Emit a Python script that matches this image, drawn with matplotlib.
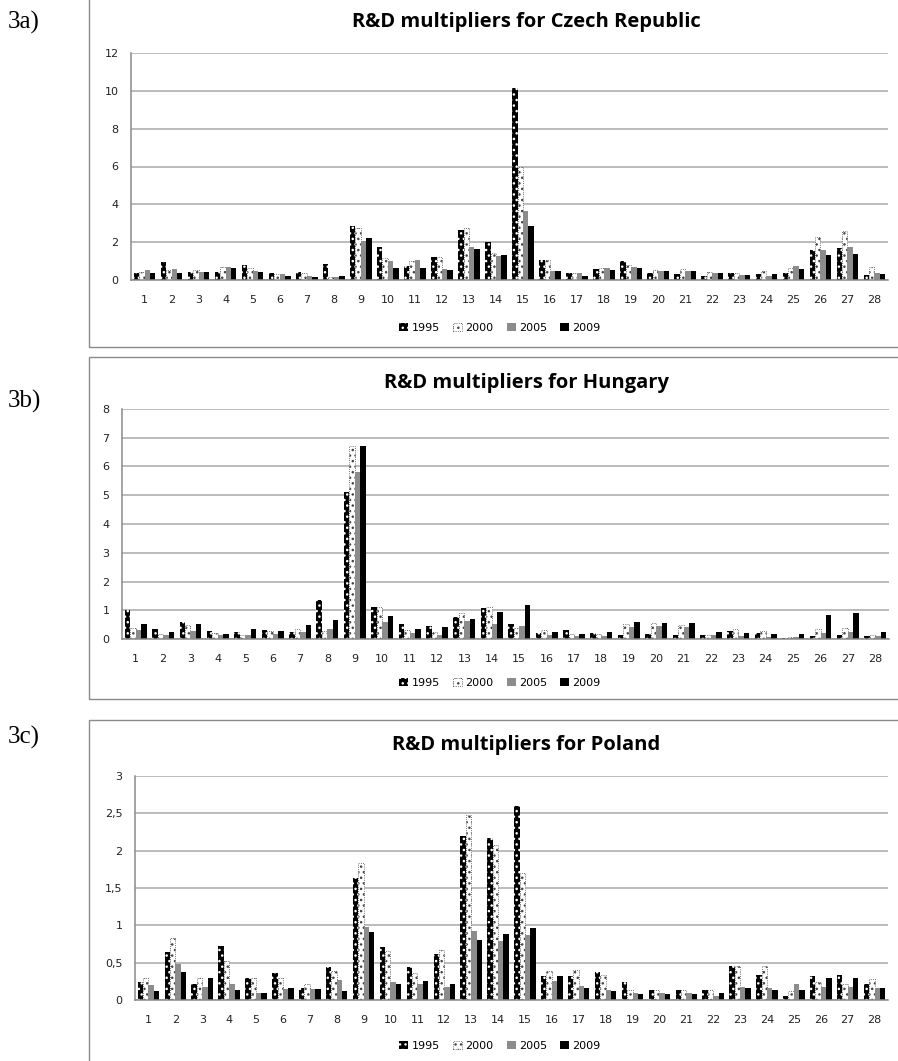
import numpy as np
import matplotlib
matplotlib.use("Agg")
from matplotlib import pyplot as plt
from matplotlib.patches import Rectangle

plt.rcParams['font.family'] = ['DejaVu Sans']
plt.rcParams['hatch.linewidth'] = 1.0

W, H = 898, 1061

sectors = list(range(1, 29))
years = ['1995', '2000', '2005', '2009']

# R&D multipliers, Czech Republic
cz_1995 = [0.35, 0.97, 0.40, 0.40, 0.78, 0.35, 0.44, 0.83, 2.88, 1.75, 0.76, 1.22, 2.65, 2.01,
           10.14, 1.06, 0.39, 0.58, 1.00, 0.35, 0.34, 0.21, 0.39, 0.34, 0.39, 1.59, 1.68, 0.26]
cz_2000 = [0.44, 0.53, 0.53, 0.69, 0.64, 0.30, 0.35, 0.14, 2.77, 1.15, 1.02, 1.22, 2.73, 1.41,
           6.00, 1.06, 0.39, 0.62, 0.78, 0.53, 0.56, 0.42, 0.35, 0.50, 0.65, 2.29, 2.59, 0.71]
cz_2005 = [0.53, 0.56, 0.40, 0.69, 0.50, 0.30, 0.23, 0.14, 2.08, 1.00, 1.06, 0.58, 1.75, 1.29,
           3.63, 0.46, 0.35, 0.62, 0.69, 0.46, 0.50, 0.39, 0.28, 0.23, 0.74, 1.59, 1.75, 0.35]
cz_2009 = [0.35, 0.35, 0.40, 0.62, 0.44, 0.23, 0.18, 0.19, 2.22, 0.63, 0.63, 0.51, 1.64, 1.32,
           2.87, 0.46, 0.19, 0.51, 0.63, 0.46, 0.50, 0.39, 0.28, 0.30, 0.56, 1.30, 1.36, 0.30]

# R&D multipliers, Hungary
hu_1995 = [1.02, 0.35, 0.58, 0.29, 0.24, 0.32, 0.24, 1.34, 5.13, 1.13, 0.53, 0.46, 0.76, 1.07,
           0.53, 0.21, 0.31, 0.22, 0.13, 0.17, 0.13, 0.13, 0.28, 0.22, 0.03, 0.09, 0.13, 0.09]
hu_2000 = [0.38, 0.18, 0.47, 0.22, 0.15, 0.29, 0.35, 0.27, 6.71, 1.11, 0.32, 0.24, 0.90, 1.11,
           0.38, 0.32, 0.18, 0.17, 0.52, 0.54, 0.50, 0.14, 0.35, 0.27, 0.06, 0.35, 0.38, 0.13]
hu_2005 = [0.32, 0.13, 0.29, 0.13, 0.15, 0.18, 0.24, 0.36, 5.80, 0.60, 0.21, 0.15, 0.64, 0.53,
           0.45, 0.15, 0.09, 0.12, 0.43, 0.45, 0.43, 0.13, 0.09, 0.06, 0.06, 0.20, 0.23, 0.09]
hu_2009 = [0.51, 0.23, 0.51, 0.18, 0.36, 0.29, 0.47, 0.67, 6.71, 0.79, 0.35, 0.42, 0.69, 0.95,
           1.17, 0.24, 0.18, 0.24, 0.60, 0.54, 0.54, 0.24, 0.20, 0.16, 0.16, 0.83, 0.90, 0.23]

# R&D multipliers, Poland
pl_1995 = [0.24, 0.64, 0.22, 0.72, 0.29, 0.36, 0.16, 0.44, 1.64, 0.71, 0.44, 0.61, 2.19, 2.17,
           2.60, 0.32, 0.32, 0.38, 0.24, 0.14, 0.14, 0.14, 0.45, 0.34, 0.06, 0.32, 0.33, 0.21]
pl_2000 = [0.30, 0.83, 0.29, 0.52, 0.29, 0.30, 0.21, 0.39, 1.83, 0.66, 0.36, 0.67, 2.48, 2.07,
           1.70, 0.39, 0.40, 0.33, 0.13, 0.14, 0.13, 0.13, 0.46, 0.45, 0.12, 0.24, 0.21, 0.28]
pl_2005 = [0.20, 0.48, 0.17, 0.22, 0.10, 0.15, 0.15, 0.27, 0.98, 0.24, 0.21, 0.17, 0.92, 0.79,
           0.87, 0.25, 0.19, 0.14, 0.09, 0.09, 0.09, 0.06, 0.18, 0.16, 0.22, 0.18, 0.17, 0.16]
pl_2009 = [0.12, 0.37, 0.29, 0.13, 0.09, 0.16, 0.15, 0.12, 0.91, 0.21, 0.25, 0.22, 0.80, 0.89,
           0.96, 0.32, 0.16, 0.12, 0.08, 0.08, 0.08, 0.09, 0.16, 0.14, 0.14, 0.29, 0.29, 0.16]

cz_ticks = ['0', '2', '4', '6', '8', '10', '12']
hu_ticks = ['0', '1', '2', '3', '4', '5', '6', '7', '8']
pl_ticks = ['0', '0,5', '1', '1,5', '2', '2,5', '3']

# year styles: face, hatch/edge colour, hatch
styles = [
    dict(facecolor='black', edgecolor='white', hatch='...', linewidth=0),
    dict(facecolor='white', edgecolor='#444444', hatch='...', linewidth=0.6, linestyle=':'),
    dict(facecolor='#8c8c8c', edgecolor='#8c8c8c', linewidth=0),
    dict(facecolor='black', edgecolor='black', linewidth=0),
]


def fx(x):
    return x / W


def fy(y):
    return 1 - y / H


fig = plt.figure(figsize=(W / 100, H / 100), dpi=100)

panels = [
    # label, title, data, ticks, ymax, step, box(top,bottom), axes(l,r,t,b), title y, legend y, label y
    ('3a)', 'R&D multipliers for Czech Republic', [cz_1995, cz_2000, cz_2005, cz_2009],
     cz_ticks, 12, 2, (-5, 347), (131, 888, 53, 280), 22, 328, 22),
    ('3b)', 'R&D multipliers for Hungary', [hu_1995, hu_2000, hu_2005, hu_2009],
     hu_ticks, 8, 1, (357, 699), (122, 889, 409, 639), 383, 683, 401),
    ('3c)', 'R&D multipliers for Poland', [pl_1995, pl_2000, pl_2005, pl_2009],
     pl_ticks, 3, 0.5, (720, 1070), (135, 888, 776, 1000), 745, 1046, 737),
]

x = np.arange(len(sectors))
bw = 0.2

for label, title, data, ticks, ymax, step, box, axpos, ty, ly, labely in panels:
    # chart area frame
    fig.patches.append(Rectangle((fx(89), fy(box[1])), fx(W + 20 - 89), (box[1] - box[0]) / H,
                                 transform=fig.transFigure, fill=False,
                                 edgecolor='#8a8a8a', linewidth=1.0))
    l, r, t, b = axpos
    ax = fig.add_axes([fx(l), fy(b), fx(r - l), (b - t) / H])
    handles = []
    for i, vals in enumerate(data):
        bars = ax.bar(x + (i - 1.5) * bw, vals, bw, label=years[i], **styles[i])
        handles.append(bars)
    ax.set_xlim(-0.5, len(sectors) - 0.5)
    ax.set_ylim(0, ymax)
    yt = np.arange(0, ymax + step / 2, step)
    ax.set_yticks(yt)
    ax.set_yticklabels(ticks)
    ax.set_xticks(x)
    ax.set_xticklabels([str(s) for s in sectors])
    ax.tick_params(axis='both', length=0, labelsize=8, colors='#222222')
    ax.tick_params(axis='y', pad=9)
    ax.tick_params(axis='x', pad=11)
    ax.yaxis.grid(True, color='#a8a8a8', linewidth=1.1)
    ax.set_axisbelow(True)
    for s in ['top', 'right']:
        ax.spines[s].set_visible(False)
    for s in ['left', 'bottom']:
        ax.spines[s].set_color('#8a8a8a')
        ax.spines[s].set_linewidth(1.1)

    fig.text(fx(526), fy(ty), title, ha='center', va='center', fontsize=14.5,
             fontweight='bold', family='Open Sans')
    fig.text(fx(8), fy(labely), label, ha='left', va='center', fontsize=18,
             family='Liberation Serif')
    fig.legend(handles=handles, labels=years, loc='center', ncol=4,
               bbox_to_anchor=(fx(500), fy(ly)), frameon=False, fontsize=8,
               handlelength=0.8, handleheight=0.8, handletextpad=0.3,
               columnspacing=1.2, borderpad=0)

fig.savefig('out.png', dpi=100)
